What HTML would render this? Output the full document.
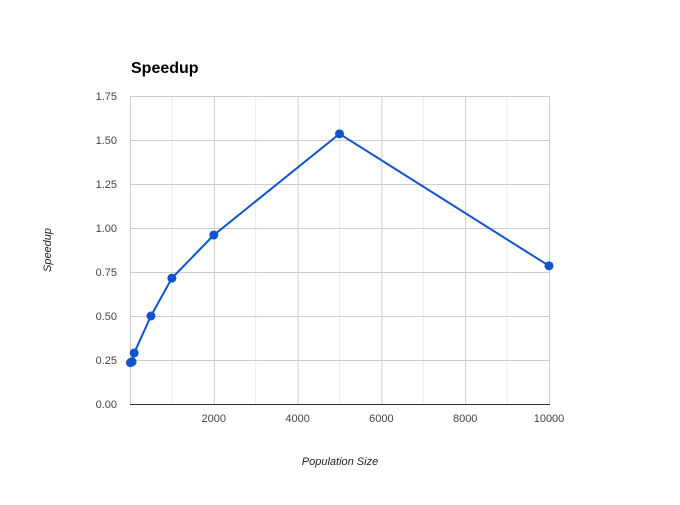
<!DOCTYPE html>
<html><head><meta charset="utf-8"><style>
body{margin:0;background:#fff;}
svg text{font-family:"Liberation Sans",Arial,sans-serif;}
</style></head><body>
<svg width="680" height="500" xmlns="http://www.w3.org/2000/svg">
<rect width="680" height="500" fill="#fff"/>
<text x="131" y="73" font-size="16" font-weight="bold" fill="#000">Speedup</text>
<text transform="translate(51,250) rotate(-90)" font-size="11" font-style="italic" text-anchor="middle" fill="#222">Speedup</text>
<text x="340" y="465" font-size="11" font-style="italic" text-anchor="middle" fill="#222">Population Size</text>
<g id="grid"></g><g id="series"></g>
</svg>
<script>
const xs=[10,50,100,500,1000,2000,5000,10000];
const ys=[0.235,0.24,0.29,0.5,0.715,0.96,1.535,0.785];
const yTicks=[0,0.25,0.5,0.75,1,1.25,1.5,1.75];
const yTickLabels=["0.00","0.25","0.50","0.75","1.00","1.25","1.50","1.75"];
const xTicks=[2000,4000,6000,8000,10000];
const NS="http://www.w3.org/2000/svg";
const X0=130,X1=549,Y0=404,Y1=96;
const sx=v=>X0+(v/10000)*(X1-X0);
const sy=v=>Y0-(v/1.75)*(Y0-Y1);
const grid=document.getElementById('grid'),ser=document.getElementById('series');
function mk(t,a,p){const e=document.createElementNS(NS,t);for(const k in a)e.setAttribute(k,a[k]);p.appendChild(e);return e;}
for(let v=1000;v<10000;v+=2000){
const l=mk('line',{x1:sx(v),x2:sx(v),y1:Y1,y2:Y0,stroke:'#ebebeb'},grid);

}
[0].concat(xTicks).forEach(v=>{
const l=mk('line',{x1:sx(v)+.5,x2:sx(v)+.5,y1:Y1,y2:Y0,stroke:'#cccccc'},grid);

});
yTicks.forEach((v,i)=>{
const y=Math.round(sy(v))+.5;
const l=mk('line',{x1:X0,x2:X1+1,y1:y,y2:y,stroke:v===0?'#333':'#cccccc'},grid);


const t=mk('text',{x:117,y:sy(v)+4,'font-size':11,'text-anchor':'end',fill:'#444'},grid);
t.textContent=yTickLabels[i];

});
xTicks.forEach(v=>{
const t=mk('text',{x:sx(v),y:422,'font-size':11,'text-anchor':'middle',fill:'#444'},grid);
t.textContent=String(v);

});
const pl=mk('polyline',{points:xs.map((v,i)=>sx(v)+','+sy(ys[i])).join(' '),fill:'none',stroke:'#1155cc','stroke-width':2},ser);


xs.forEach((v,i)=>{
const c=mk('circle',{cx:sx(v),cy:sy(ys[i]),r:4.5,fill:'#1155cc'},ser);

});
</script>
</body></html>
